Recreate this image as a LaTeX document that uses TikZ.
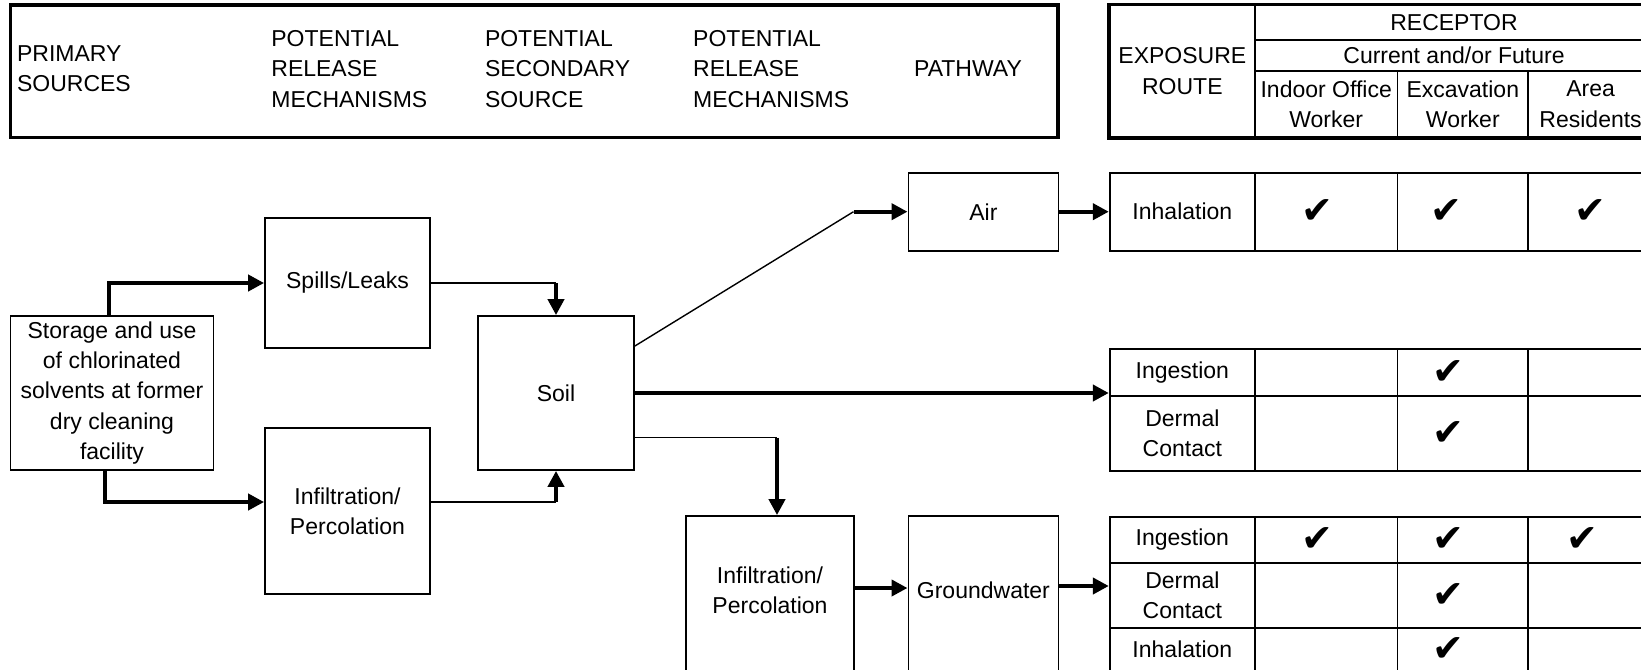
\documentclass[tikz,border=0pt]{standalone}
\usepackage{fontspec}
\setmainfont{Liberation Sans}
\newfontfamily\checkfont{DejaVu Sans}
\usetikzlibrary{arrows.meta,calc}

\tikzset{
  box/.style={draw, line width=0.9pt, inner sep=0pt, align=center},
  cell/.style 2 args={box, minimum width=#1, minimum height=#2},
  head/.style={inner sep=0pt, align=left, anchor=west},
  link/.style={line width=0.7pt},
  flow/.style={line width=2pt, -{Triangle[length=8pt,width=8pt]}},
  frame/.style={line width=1.6pt},
}
% check mark, pushed left by half of #1
\newcommand{\tick}[1]{{\checkfont\fontsize{19}{19}\selectfont ✔}\kern#1}

\begin{document}
\begin{tikzpicture}[x=0.5pt,y=0.5pt,yscale=-1,font=\fontsize{11.5}{15.2}\selectfont]
\useasboundingbox (0,0) rectangle (1641,669);
\clip (0,0) rectangle (1641,669);

%Header: pathway columns
\draw[frame] (10.5,5) rectangle (1058,137.3);
\node[head] (prim) at (16.7,68.5) {PRIMARY\\SOURCES};
\node[head] (rel1) at (271,69) {POTENTIAL\\RELEASE\\MECHANISMS};
\node[head] (sec) at (484.6,69) {POTENTIAL\\SECONDARY\\SOURCE};
\node[head] (rel2) at (692.8,69) {POTENTIAL\\RELEASE\\MECHANISMS};
\node[head] (path) at (913.7,69) {PATHWAY};

%Header: receptor table
\node[cell={72.65pt}{66.15pt}] (route) at (1182.35,71.2) {EXPOSURE\\ROUTE};
\node[cell={199pt}{17.5pt}] (recep) at (1454,22.5) {RECEPTOR};
\node[cell={199pt}{15.5pt}] (curr) at (1454,55.5) {Current and/or Future};
\node[cell={71.2pt}{33.15pt}] (indoor) at (1326.2,104.2) {Indoor Office\\Worker};
\node[cell={65.4pt}{33.15pt}] (excav) at (1462.8,104.2) {Excavation\\Worker};
\node[cell={62.4pt}{33.15pt}] (resid) at (1590.6,104.2) {Area\\Residents};
\draw[frame] (route.north west) rectangle (resid.south east);

%Sources and media
\node[cell={101.5pt}{77pt}] (store) at (112,393) {Storage and use\\of chlorinated\\solvents at former\\dry cleaning\\facility};
\node[cell={82.5pt}{65pt}] (spills) at (347.5,283) {Spills/Leaks};
\node[cell={82.5pt}{83pt}] (infil) at (347.5,511) {Infiltration/\\Percolation};
\node[cell={78pt}{77pt}] (soil) at (556,393) {Soil};
\node[cell={75pt}{39pt}] (air) at (983.4,211.7) {Air};
\node[cell={84pt}{80pt}] (infil2) at (770,596) {};
\node[align=center] (infil2t) at (770,590) {Infiltration/\\Percolation};
\node[cell={75pt}{80pt}] (gw) at (983.4,596) {};
\node (gwt) at (983.4,590) {Groundwater};

%Exposure rows: air
\node[cell={72.65pt}{39pt}] (inh1) at (1182.35,211.7) {Inhalation};
\node[cell={71.2pt}{39pt}] (inh1a) at (1326.2,211.7) {\tick{9pt}};
\node[cell={65.4pt}{39pt}] (inh1b) at (1462.8,211.7) {\tick{16pt}};
\node[cell={62.4pt}{39pt}] (inh1c) at (1590.6,211.7) {\tick{0pt}};

%Exposure rows: soil
\node[cell={72.65pt}{23.2pt}] (ing1) at (1182.35,372.5) {Ingestion};
\node[cell={71.2pt}{23.2pt}] (ing1a) at (1326.2,372.5) {};
\node[cell={65.4pt}{23.2pt}] (ing1b) at (1462.8,372.5) {\tick{14pt}};
\node[cell={62.4pt}{23.2pt}] (ing1c) at (1590.6,372.5) {};
\node[cell={72.65pt}{37.5pt}] (der1) at (1182.35,433.2) {Dermal\\Contact};
\node[cell={71.2pt}{37.5pt}] (der1a) at (1326.2,433.2) {};
\node[cell={65.4pt}{37.5pt}] (der1b) at (1462.8,433.2) {\tick{14pt}};
\node[cell={62.4pt}{37.5pt}] (der1c) at (1590.6,433.2) {};

%Exposure rows: groundwater
\node[cell={72.65pt}{22.7pt}] (ing2) at (1182.35,540) {Ingestion};
\node[cell={71.2pt}{22.7pt}] (ing2a) at (1326.2,540) {\tick{9pt}};
\node[cell={65.4pt}{22.7pt}] (ing2b) at (1462.8,540) {\tick{14pt}};
\node[cell={62.4pt}{22.7pt}] (ing2c) at (1590.6,540) {\tick{8pt}};
\node[cell={72.65pt}{32.8pt}] (der2) at (1182.35,595.5) {Dermal\\Contact};
\node[cell={71.2pt}{32.8pt}] (der2a) at (1326.2,595.5) {};
\node[cell={65.4pt}{32.8pt}] (der2b) at (1462.8,595.5) {\tick{14pt}};
\node[cell={62.4pt}{32.8pt}] (der2c) at (1590.6,595.5) {};
\node[cell={72.65pt}{21.35pt}] (inh2) at (1182.35,649.65) {Inhalation};
\node[cell={71.2pt}{21.35pt}] (inh2a) at (1326.2,649.65) {};
\node[cell={65.4pt}{21.35pt}] (inh2b) at (1462.8,649.65) {\tick{14pt}};
\node[cell={62.4pt}{21.35pt}] (inh2c) at (1590.6,649.65) {};

%Connectors
\draw[flow] ($(store.north)+(-3,0)$) |- (spills.west);
\draw[flow] ($(store.south)+(-7,0)$) |- ($(infil.west)+(0,-9)$);

\coordinate (k1) at (spills.east -| soil.north);
\draw[link] (spills.east) -- (k1);
\draw[flow] (k1) -- (soil.north);

\coordinate (k2) at ($(infil.east)+(0,-9)$);
\draw[link] (k2) -- (k2 -| soil.south);
\draw[flow] (k2 -| soil.south) -- (soil.south);

\coordinate (k3) at ($(soil.east)+(0,-47)$);
\coordinate (k4) at ($(air.west)+(-54,0)$);
\draw[link] (k3) -- (k4);
\draw[flow] (k4) -- (air.west);
\draw[flow] (air.east) -- (inh1.west);

\draw[flow] (soil.east) -- (soil.east -| ing1.west);

\coordinate (k5) at ($(soil.east)+(0,44.5)$);
\coordinate (k6) at ($(infil2.north)+(7,0)$);
\draw[link] (k5) -- (k5 -| k6);
\draw[flow] (k5 -| k6) -- (k6);

\coordinate (k7) at ($(infil2.east)+(0,-8)$);
\draw[flow] (k7) -- (k7 -| gw.west);
\coordinate (k8) at ($(gw.east)+(0,-10)$);
\draw[flow] (k8) -- (k8 -| der2.west);

\end{tikzpicture}
\end{document}
